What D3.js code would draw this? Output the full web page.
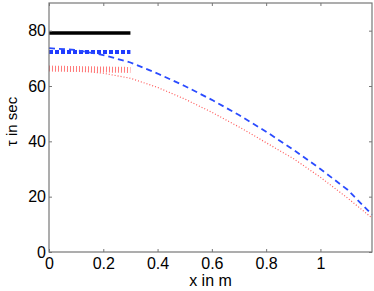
<!DOCTYPE html>
<html>
<head>
    <script src="https://d3js.org/d3.v7.min.js"></script>
    <style>
        body { margin: 0; background: white; }
        text { font-family: "Liberation Sans", Arial, sans-serif; }
    </style>
</head>
<body>
    <script>
        //****DATA****
        const xTicks = [0, 0.2, 0.4, 0.6, 0.8, 1];
        const yTicks = [0, 20, 40, 60, 80];

        // short horizontal segments (0 to 0.3 m)
        const shortX = [0, 0.3];
        const blackTau = [79.2, 79.2];
        const blueDotTau = [72.3, 72.3];
        const redDotTau = [66.3, 65.8];

        // long curves
        const curveX = [0, 0.1, 0.2, 0.3, 0.4, 0.5, 0.6, 0.7, 0.8, 0.9, 1.0, 1.1, 1.19];
        const blueDashTau = [73.7, 73, 71.2, 68.5, 64.5, 60, 55, 49.5, 43.5, 37, 30, 22.5, 13.5];
        const redThinTau = [66, 65.7, 64.6, 62.8, 59.5, 55.3, 50.5, 45.2, 39.5, 33.8, 27, 19.5, 12.3];

        //****CANVAS****
        const width = 374, height = 291;
        const padLeft = 49, padRight = 372, padTop = 3, padBottom = 252;

        const svg = d3.select('body').append('svg')
            .attr('width', width)
            .attr('height', height);

        const xScale = d3.scaleLinear().domain([0, 1.19]).range([padLeft, padRight]);
        const yScale = d3.scaleLinear().domain([0, 90]).range([padBottom, padTop]);

        const line = d3.line()
            .x(d => xScale(d[0]))
            .y(d => yScale(d[1]));

        const zip = (xs, ys) => xs.map((x, i) => [x, ys[i]]);

        //****PLOT****
        const plot = svg.append('g');

        plot.append('path')
            .attr('d', line(zip(curveX, redThinTau)))
            .attr('fill', 'none')
            .attr('stroke', '#ff5a5a')
            .attr('stroke-width', 1.2)
            .attr('stroke-dasharray', '1,2');

        plot.append('path')
            .attr('d', line(zip(shortX, redDotTau)))
            .attr('fill', 'none')
            .attr('stroke', '#ff7a7a')
            .attr('stroke-width', 6)
            .attr('stroke-dasharray', '1,2');

        plot.append('path')
            .attr('d', line(zip(shortX, blueDotTau)))
            .attr('fill', 'none')
            .attr('stroke', '#1f3cff')
            .attr('stroke-width', 4)
            .attr('stroke-dasharray', '4,2');

        plot.append('path')
            .attr('d', line(zip(curveX, blueDashTau)))
            .attr('fill', 'none')
            .attr('stroke', '#2a4bff')
            .attr('stroke-width', 1.8)
            .attr('stroke-dasharray', '6,4');

        plot.append('path')
            .attr('d', line(zip(shortX, blackTau)))
            .attr('fill', 'none')
            .attr('stroke', 'black')
            .attr('stroke-width', 3.5);

        //****AXES****
        const axisColor = '#777';
        const styleAxis = g => {
            g.select('.domain').remove();
            g.selectAll('.tick line').attr('stroke', axisColor);
            g.selectAll('.tick text').attr('fill', 'black').style('font-size', '16px');
        };

        svg.append('g')
            .attr('transform', `translate(0,${padBottom})`)
            .call(d3.axisBottom(xScale).tickValues(xTicks).tickFormat(d3.format('~g'))
                .tickSizeInner(-3).tickSizeOuter(0).tickPadding(6))
            .call(styleAxis);

        svg.append('g')
            .attr('transform', `translate(0,${padTop})`)
            .call(d3.axisTop(xScale).tickValues(xTicks).tickFormat('')
                .tickSizeInner(-3).tickSizeOuter(0))
            .call(styleAxis);

        svg.append('g')
            .attr('transform', `translate(${padLeft},0)`)
            .call(d3.axisLeft(yScale).tickValues(yTicks)
                .tickSizeInner(-3).tickSizeOuter(0).tickPadding(3))
            .call(styleAxis);

        svg.append('g')
            .attr('transform', `translate(${padRight},0)`)
            .call(d3.axisRight(yScale).tickValues(yTicks).tickFormat('')
                .tickSizeInner(-3).tickSizeOuter(0))
            .call(styleAxis);

        // box
        svg.append('rect')
            .attr('x', padLeft).attr('y', padTop)
            .attr('width', padRight - padLeft).attr('height', padBottom - padTop)
            .attr('fill', 'none')
            .attr('stroke', axisColor)
            .attr('stroke-width', 1.2);

        //****LABELS****
        svg.append('text')
            .attr('x', (padLeft + padRight) / 2)
            .attr('y', 286)
            .attr('text-anchor', 'middle')
            .style('font-size', '16px')
            .text('x in m');

        svg.append('text')
            .attr('transform', `translate(17,${(padTop + padBottom) / 2 - 6}) rotate(-90)`)
            .attr('text-anchor', 'middle')
            .style('font-size', '15px')
            .text('τ in sec');
    </script>
</body>
</html>
